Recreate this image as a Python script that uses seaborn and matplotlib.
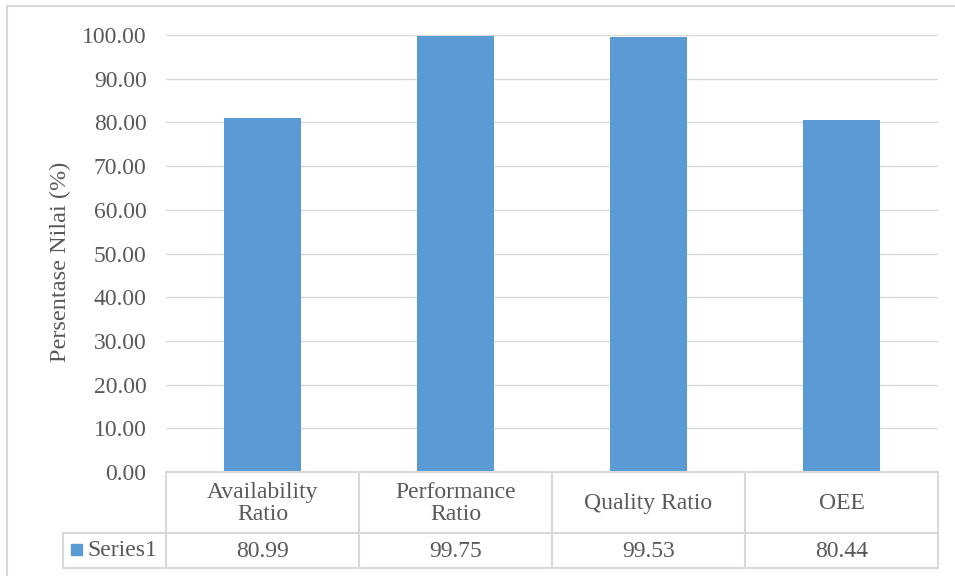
import matplotlib
matplotlib.use("Agg")
import matplotlib.pyplot as plt
from matplotlib.lines import Line2D
import seaborn as sns
import pandas as pd

categories = ["Availability\nRatio", "Performance\nRatio", "Quality Ratio", "OEE"]
values = [80.99, 99.75, 99.53, 80.44]
series_name = "Series1"
y_ticks = [0, 10, 20, 30, 40, 50, 60, 70, 80, 90, 100]
y_label = "Persentase Nilai (%)"

sns.set_theme(style="white")
plt.rcParams['font.family'] = ['Liberation Serif', 'DejaVu Serif']

FS = 17
W, H = 955, 576
fig = plt.figure(figsize=(W / 100, H / 100), dpi=100)
L, R, T, B = 166, 938, 35, 472
ax = fig.add_axes([L / W, 1 - B / H, (R - L) / W, (B - T) / H])

df = pd.DataFrame({"cat": categories, "val": values})
bar_color = "#5B9BD5"
sns.barplot(data=df, x="cat", y="val", color=bar_color, width=0.4, ax=ax,
            saturation=1, edgecolor="none")

ax.set_xlim(-0.5, len(categories) - 0.5)
ax.set_ylim(0, 100)
ax.set_yticks(y_ticks)
ax.set_yticklabels([f"{v:.2f}" for v in y_ticks], fontsize=FS, color="#595959")
ax.tick_params(axis="y", length=0, pad=14)
ax.set_xticks([])
ax.set_xlabel("")
ax.set_ylabel("")
ax.grid(axis="y", color="#D9D9D9", linewidth=1)
ax.set_axisbelow(True)
for s in ax.spines.values():
    s.set_visible(False)

fig.text(60 / W, 1 - 262 / H, y_label, rotation=90, ha="center", va="center",
         fontsize=17.5, color="#595959")

# Data table
grid_c = "#D9D9D9"
tc = "#595959"
def fx(px):
    return px / W
def fy(py):
    return 1 - py / H

row1_top, row1_bot, row2_bot = 472, 533, 568
lbl_left = 63
cell_w = (R - L) / len(categories)

lines = []
lines.append(((fx(L), fx(R)), (fy(row1_top), fy(row1_top))))
lines.append(((fx(lbl_left), fx(R)), (fy(row1_bot), fy(row1_bot))))
lines.append(((fx(lbl_left), fx(R)), (fy(row2_bot), fy(row2_bot))))
for i in range(len(categories) + 1):
    x = L + i * cell_w
    lines.append(((fx(x), fx(x)), (fy(row1_top), fy(row2_bot))))
lines.append(((fx(lbl_left), fx(lbl_left)), (fy(row1_bot), fy(row2_bot))))
for xs, ys in lines:
    fig.add_artist(Line2D(xs, ys, color=grid_c, linewidth=1.5))

for i, (c, v) in enumerate(zip(categories, values)):
    cx = L + (i + 0.5) * cell_w
    fig.text(fx(cx), fy((row1_top + row1_bot) / 2 + 1), c, ha="center", va="center",
             fontsize=FS, color=tc, linespacing=1.12)
    fig.text(fx(cx), fy((row1_bot + row2_bot) / 2 + 1), f"{v:.2f}", ha="center",
             va="center", fontsize=FS, color=tc)

# legend key + series name
fig.add_artist(plt.Rectangle((fx(71), fy(555)), 11 / W, 11 / H, color=bar_color,
                             transform=fig.transFigure))
fig.text(fx(87), fy(551), series_name, ha="left", va="center", fontsize=FS, color=tc)

# outer chart border
fig.add_artist(Line2D((fx(7), fx(7)), (fy(6), fy(576)), color=grid_c, linewidth=1.5))
fig.add_artist(Line2D((fx(7), fx(955)), (fy(6), fy(6)), color=grid_c, linewidth=1.5))

fig.savefig("out.png", dpi=100)
